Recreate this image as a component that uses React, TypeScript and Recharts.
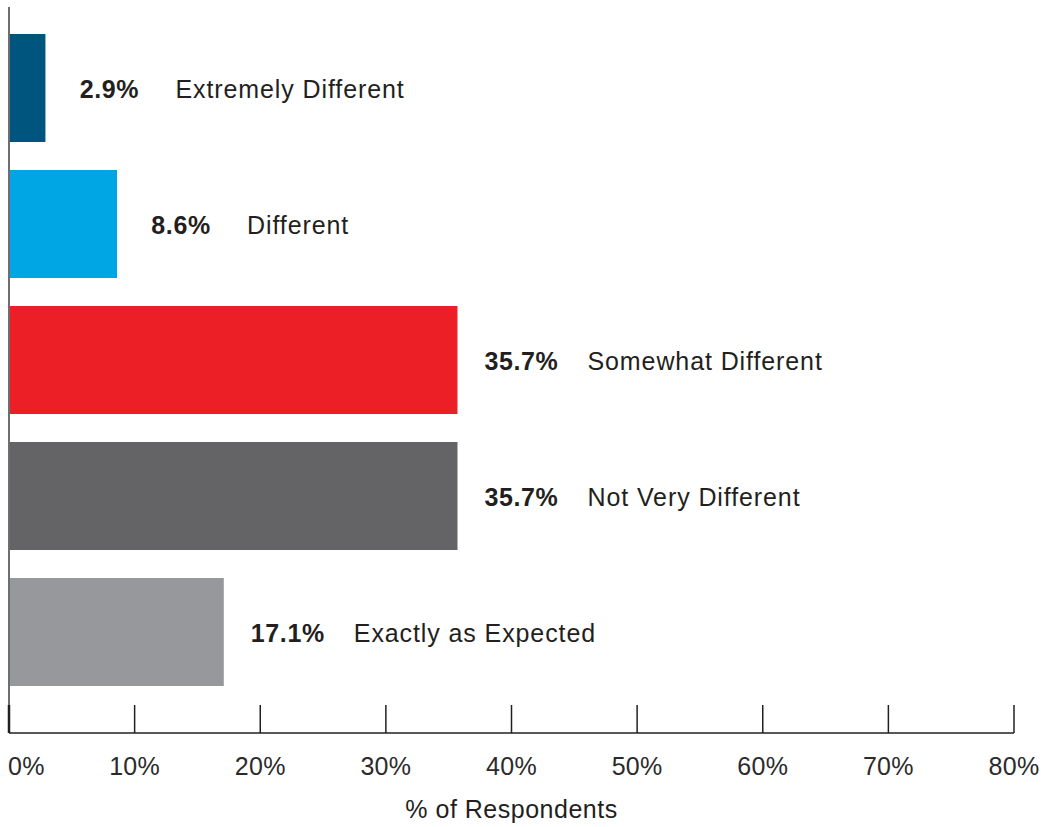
import { BarChart, Bar, XAxis, YAxis, LabelList, Cell, Label } from 'recharts';

// Survey answers, top to bottom
const categories = ['Extremely Different', 'Different', 'Somewhat Different', 'Not Very Different', 'Exactly as Expected'];
const shares = [2.9, 8.6, 35.7, 35.7, 17.1];
const barColors = ['#00557f', '#00a5e3', '#ec1f27', '#646466', '#97989b'];
const xTicks = [0, 10, 20, 30, 40, 50, 60, 70, 80];

const FONT = '"Liberation Sans", Arial, sans-serif';
const INK = '#231f20';

const data = categories.map((name, i) => ({ name, value: shares[i] }));

// tick mark rises from the axis line, label sits below
const AxisTick = (props: any) => {
  const { x, y, payload, index } = props;
  return (
    <g>
      <line x1={x} y1={y - 28} x2={x} y2={y} stroke={INK} strokeWidth={index === 0 ? 2.5 : 1.5} />
      <text
        x={index === 0 ? x - 1 : x}
        y={y + 42}
        textAnchor={index === 0 ? 'start' : 'middle'}
        fontFamily={FONT}
        fontSize={25}
        fill="#2b2b2b"
        letterSpacing={0.3}
      >
        {payload.value}%
      </text>
    </g>
  );
};

const BarText = (props: any) => {
  const { x, y, width, height, index } = props;
  const end = x + width;
  const base = y + height / 2 + 10;
  return (
    <g fontFamily={FONT} fontSize={25} fill={INK}>
      <text x={end + 64} y={base} textAnchor="middle" fontWeight="bold" letterSpacing={0.6}>
        {shares[index].toFixed(1)}%
      </text>
      <text x={end + 130} y={base} letterSpacing={0.9}>{categories[index]}</text>
    </g>
  );
};

export default function App() {
  return (
    <div style={{ position: 'absolute', left: 0, top: 0, width: 1045, height: 827, background: '#fff' }}>
      <BarChart
        width={1045}
        height={827}
        data={data}
        layout="vertical"
        margin={{ top: 7, right: 31, left: 8, bottom: 0 }}
        barSize={108}
      >
        <XAxis
          type="number"
          domain={[0, 80]}
          ticks={xTicks}
          interval={0}
          height={94}
          tickLine={false}
          tickSize={0}
          tickMargin={0}
          axisLine={{ stroke: INK, strokeWidth: 1.5 }}
          tick={<AxisTick />}
        >
          <Label
            value="% of Respondents"
            position="insideBottom"
            offset={9}
            fontFamily={FONT}
            fontSize={25}
            fill={INK}
            letterSpacing={0.5}
          />
        </XAxis>
        <YAxis
          type="category"
          dataKey="name"
          width={1}
          tick={false}
          tickLine={false}
          axisLine={{ stroke: '#6d6e71', strokeWidth: 2 }}
          padding={{ top: 13, bottom: 33 }}
        />
        <Bar dataKey="value" isAnimationActive={false}>
          {data.map((d, i) => (
            <Cell key={d.name} fill={barColors[i]} />
          ))}
          <LabelList dataKey="value" content={<BarText />} />
        </Bar>
      </BarChart>
    </div>
  );
}
